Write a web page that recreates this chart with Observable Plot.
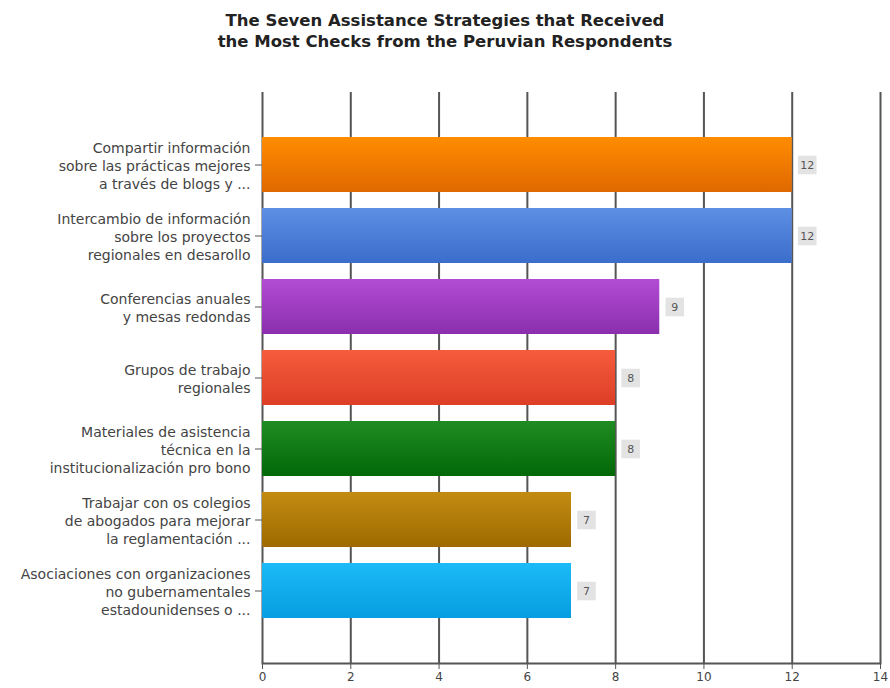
<!DOCTYPE html>
<html>
<head>
<meta charset="utf-8">
<script src="https://cdn.jsdelivr.net/npm/d3@7"></script>
<script src="https://cdn.jsdelivr.net/npm/@observablehq/plot@0.6"></script>
<style>
  body { margin: 0; background: #fff; }
  #title { width: 890px; height: 62px; box-sizing: border-box; padding-top: 10px; text-align: center;
    font-family: "DejaVu Sans", sans-serif; font-weight: bold; font-size: 16.5px; line-height: 21px; color: #222; }
  #chart { width: 890px; }
</style>
</head>
<body>
<div id="title">The Seven Assistance Strategies that Received<br>the Most Checks from the Peruvian Respondents</div>
<div id="chart"></div>
<script>
const labels = [
  "Compartir información\nsobre las prácticas mejores\na través de blogs y ...",
  "Intercambio de información\nsobre los proyectos\nregionales en desarollo",
  "Conferencias anuales\ny mesas redondas",
  "Grupos de trabajo\nregionales",
  "Materiales de asistencia\ntécnica en la\ninstitucionalización pro bono",
  "Trabajar con os colegios\nde abogados para mejorar\nla reglamentación ...",
  "Asociaciones con organizaciones\nno gubernamentales\nestadounidenses o ..."
];
const values = [12, 12, 9, 8, 8, 7, 7];
const xTicks = [0, 2, 4, 6, 8, 10, 12, 14];

const topColors = ["#ff8c00", "#5d8fe4", "#b24cd4", "#f65c3c", "#1f8c22", "#c28c12", "#1cbaf7"];
const bottomColors = ["#e06800", "#3b6dcb", "#8a2fae", "#dc3e26", "#036808", "#9e6a00", "#069ee0"];

const data = labels.map((label, i) => ({label, value: values[i]}));
const gradIds = labels.map((_, i) => `grad${i}`);

const plot = Plot.plot({
  width: 890,
  height: 626,
  marginTop: 30,
  marginBottom: 25,
  marginLeft: 262,
  marginRight: 10,
  style: {fontFamily: "DejaVu Sans, sans-serif", color: "#444", background: "#fff"},
  x: {domain: [0, 14], ticks: xTicks, label: null},
  y: {domain: labels, paddingInner: 0.22, paddingOuter: 0.6, label: null},
  color: {domain: labels, range: gradIds.map(id => `url(#${id})`)},
  marks: [
    Plot.ruleX(xTicks, {stroke: "#555", strokeWidth: 2}),
    Plot.frame({anchor: "bottom", stroke: "#555", strokeWidth: 2}),
    Plot.barX(data, {x: "value", y: "label", fill: "label"}),
    Plot.dot(data, {x: "value", y: "label", symbol: "square", r: 10.5, fill: "#e3e3e3", stroke: "none", dx: 15}),
    Plot.text(data, {x: "value", y: "label", text: d => String(d.value), dx: 15, fill: "#555", fontSize: 11}),
    Plot.axisX({ticks: xTicks, tickSize: 6, tickPadding: 3, fontSize: 12, label: null, stroke: "#555"}),
    Plot.axisY({tickSize: 7, tickPadding: 5, fontSize: 14, lineHeight: 1.3, label: null, stroke: "#555"})
  ]
});

const svg = d3.select(plot.tagName === "svg" ? plot : plot.querySelector("svg"));
const defs = svg.insert("defs", ":first-child");
gradIds.forEach((id, i) => {
  const g = defs.append("linearGradient").attr("id", id).attr("x1", 0).attr("y1", 0).attr("x2", 0).attr("y2", 1);
  g.append("stop").attr("offset", "0%").attr("stop-color", topColors[i]);
  g.append("stop").attr("offset", "100%").attr("stop-color", bottomColors[i]);
});

document.getElementById("chart").appendChild(plot);
</script>
</body>
</html>
